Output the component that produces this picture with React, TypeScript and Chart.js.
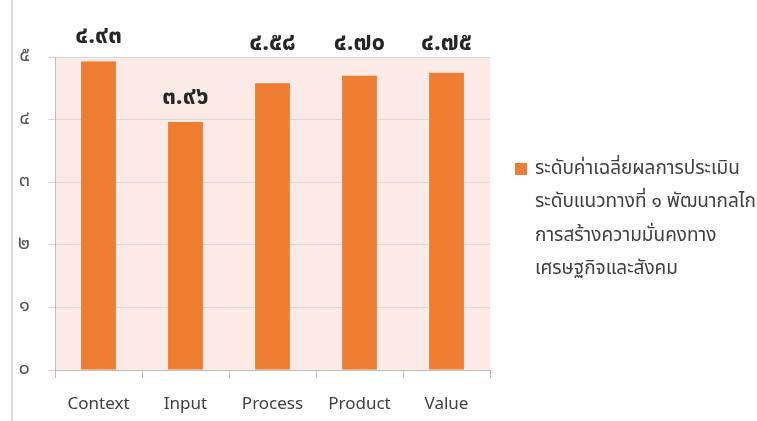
import React, { useEffect, useRef } from "react";
import { Chart, registerables } from "chart.js";

Chart.register(...registerables);

const categories = ["Context", "Input", "Process", "Product", "Value"];
const values = [4.93, 3.96, 4.58, 4.7, 4.75];
const yTicks = [0, 1, 2, 3, 4, 5];
const legendLines = [
  "ระดับค่าเฉลี่ยผลการประเมิน",
  "ระดับแนวทางที่ ๑ พัฒนากลไก",
  "การสร้างความมั่นคงทาง",
  "เศรษฐกิจและสังคม",
];

const THAI_DIGITS = ["๐", "๑", "๒", "๓", "๔", "๕", "๖", "๗", "๘", "๙"];
const toThai = (s: string) => s.replace(/[0-9]/g, (d) => THAI_DIGITS[Number(d)]);

const FONT = '"Noto Sans Thai", "Leelawadee UI", Tahoma, "Noto Sans", "DejaVu Sans", sans-serif';
const ORANGE = "#ED7D31";

const bgPlugin = {
  id: "plotBg",
  beforeDraw(chart: any) {
    const { ctx, chartArea } = chart;
    ctx.save();
    ctx.fillStyle = "#FBEAE5";
    ctx.fillRect(chartArea.left, chartArea.top, chartArea.right - chartArea.left, chartArea.bottom - chartArea.top);
    ctx.restore();
  },
};

const valueLabelPlugin = {
  id: "valueLabels",
  afterDatasetsDraw(chart: any) {
    const { ctx, chartArea } = chart;
    const meta = chart.getDatasetMeta(0);
    ctx.save();
    ctx.font = `bold 24px ${FONT}`;
    ctx.fillStyle = "#262626";
    ctx.textAlign = "center";
    ctx.textBaseline = "middle";
    meta.data.forEach((bar: any, i: number) => {
      const v = values[i];
      let y = bar.y - 23;
      if (v > 4) y = Math.min(y, chartArea.top - 12);
      ctx.fillText(toThai(v.toFixed(2)), bar.x, y);
    });
    ctx.restore();
  },
};

const legendPlugin = {
  id: "customLegend",
  afterDraw(chart: any) {
    const { ctx, chartArea } = chart;
    const x0 = chartArea.right + 25;
    const y0 = 170;
    ctx.save();
    ctx.fillStyle = ORANGE;
    ctx.fillRect(x0, y0 - 7, 12, 12);
    ctx.font = `19px ${FONT}`;
    ctx.fillStyle = "#404040";
    ctx.textAlign = "left";
    ctx.textBaseline = "middle";
    legendLines.forEach((line, i) => {
      ctx.fillText(line, x0 + 20, y0 + i * 33.5);
    });
    ctx.restore();
  },
};

export default function App() {
  const ref = useRef<HTMLCanvasElement>(null);
  useEffect(() => {
    if (!ref.current) return;
    const chart = new Chart(ref.current, {
      type: "bar",
      data: {
        labels: categories,
        datasets: [
          {
            data: values,
            backgroundColor: ORANGE,
            borderWidth: 0,
            categoryPercentage: 1,
            barPercentage: 0.4,
          },
        ],
      },
      options: {
        animation: false,
        responsive: false,
        maintainAspectRatio: false,
        layout: { padding: { top: 57, right: 267, left: 12, bottom: 0 } },
        plugins: { legend: { display: false }, tooltip: { enabled: false } },
        scales: {
          x: {
            grid: {
              offset: true,
              drawOnChartArea: false,
              drawTicks: true,
              tickLength: 8,
              color: "#BFBFBF",
            },
            border: { display: true, color: "#BFBFBF" },
            ticks: { color: "#404040", font: { size: 17, family: FONT }, padding: 17 },
            afterFit: (s: any) => {
              s.height = 51;
            },
          },
          y: {
            min: 0,
            max: 5,
            afterBuildTicks: (s: any) => {
              s.ticks = yTicks.map((v) => ({ value: v }));
            },
            grid: { color: "#D9D9D9", tickLength: 7, drawTicks: true },
            border: { display: true, color: "#BFBFBF" },
            ticks: {
              color: "#595959",
              font: { size: 20, family: FONT },
              padding: 18,
              callback: (v: any) => toThai(String(v)),
            },
            afterFit: (s: any) => {
              s.width = 43;
            },
          },
        },
      },
      plugins: [bgPlugin, valueLabelPlugin, legendPlugin],
    });
    return () => chart.destroy();
  }, []);
  return (
    <div style={{ position: "fixed", left: 0, top: 0, width: 757, height: 421, background: "#fff" }}>
      <div style={{ position: "absolute", left: 11, top: 0, width: 2, height: 421, background: "#D9D9D9" }} />
      <canvas ref={ref} width={757} height={421} style={{ position: "absolute", left: 0, top: 0 }} />
    </div>
  );
}
